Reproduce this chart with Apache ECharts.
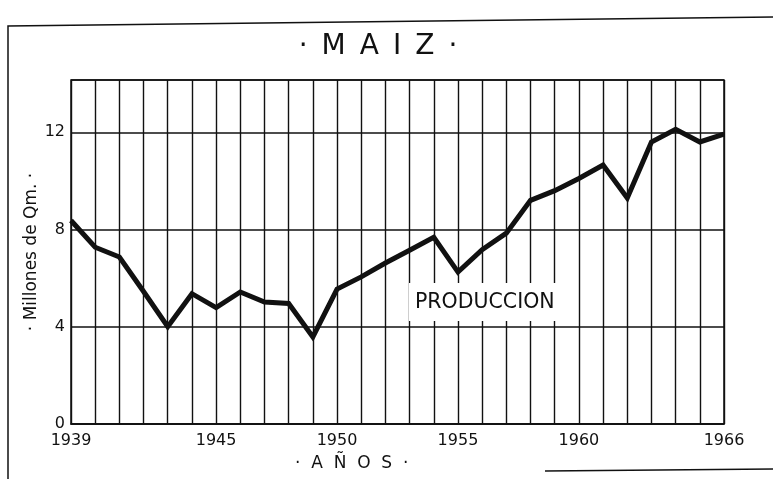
<!DOCTYPE html>
<html><head><meta charset="utf-8">
<script src="https://cdn.jsdelivr.net/npm/echarts@6/dist/echarts.min.js"></script>
<style>html,body{margin:0;padding:0;background:#fff}#c{width:773px;height:479px}</style>
</head><body><div id="c"></div>
<script>
const years = [1939,1940,1941,1942,1943,1944,1945,1946,1947,1948,1949,1950,1951,1952,1953,1954,1955,1956,1957,1958,1959,1960,1961,1962,1963,1964,1965,1966];
const production = [8.37,7.27,6.87,5.45,4.0,5.36,4.79,5.43,5.02,4.96,3.58,5.55,6.05,6.62,7.15,7.68,6.25,7.17,7.85,9.2,9.6,10.1,10.65,9.3,11.6,12.12,11.6,11.92];
const yTickLabels = [0,4,8,12];
const xTickLabels = [1939,1945,1950,1955,1960,1966];
const seriesLabel = 'PRODUCCION';
const titleText = '·\u2002M\u2002A\u2002I\u2002Z\u2002·';
const yName = '· Millones de Qm. ·';
const xName = '·  A  Ñ  O  S  ·';

const FONT = 'DejaVu Sans, sans-serif';
const chart = echarts.init(document.getElementById('c'), null, {renderer:'canvas'});
chart.setOption({
  backgroundColor:'#fff',
  animation:false,
  grid:{left:71,right:49,top:80,bottom:55,show:true,borderColor:'#111',borderWidth:1.5,backgroundColor:'transparent'},
  xAxis:{type:'value',min:1939,max:1966,interval:1,
    axisLine:{show:true,lineStyle:{color:'#111',width:1.5}},
    axisTick:{show:false},
    splitLine:{show:true,lineStyle:{color:'#111',width:1.4}},
    axisLabel:{margin:9,fontFamily:FONT,fontSize:16,color:'#111',
      formatter:v=>xTickLabels.indexOf(v)>=0?String(v):''}},
  yAxis:{type:'value',min:0,max:14.15,interval:4,
    name:yName,nameLocation:'middle',nameGap:31,nameMoveOverlap:false,
    nameTextStyle:{fontFamily:FONT,fontSize:17,color:'#111'},
    axisLine:{show:false},axisTick:{show:false},
    splitLine:{show:true,lineStyle:{color:'#111',width:1.5}},
    axisLabel:{margin:6,fontFamily:FONT,fontSize:16,color:'#111',
      formatter:v=>yTickLabels.indexOf(v)>=0?String(v):''}},
  series:[{type:'line',data:years.map((y,i)=>[y,production[i]]),
    symbol:'none',lineStyle:{color:'#111',width:5,join:'miter'},z:5}],
  graphic:[
    {type:'polyline',shape:{points:[[8,479],[8,26],[773,17]]},style:{stroke:'#111',lineWidth:1.5,fill:null},z:10},
    {type:'line',shape:{x1:545,y1:471,x2:773,y2:469},style:{stroke:'#111',lineWidth:1.5},z:10},
    {type:'text',x:378,y:33,z:20,style:{text:titleText,textAlign:'center',fontFamily:FONT,fontSize:28,fill:'#111'}},
    {type:'text',left:409,top:283,z:20,style:{text:seriesLabel,fontFamily:FONT,fontSize:20.5,fill:'#111',
      backgroundColor:'#fff',padding:[9,6,8,6]}},
    {type:'text',left:295,top:455,z:20,style:{text:xName,fontFamily:FONT,fontSize:17,fill:'#111'}}
  ]
});
</script></body></html>
